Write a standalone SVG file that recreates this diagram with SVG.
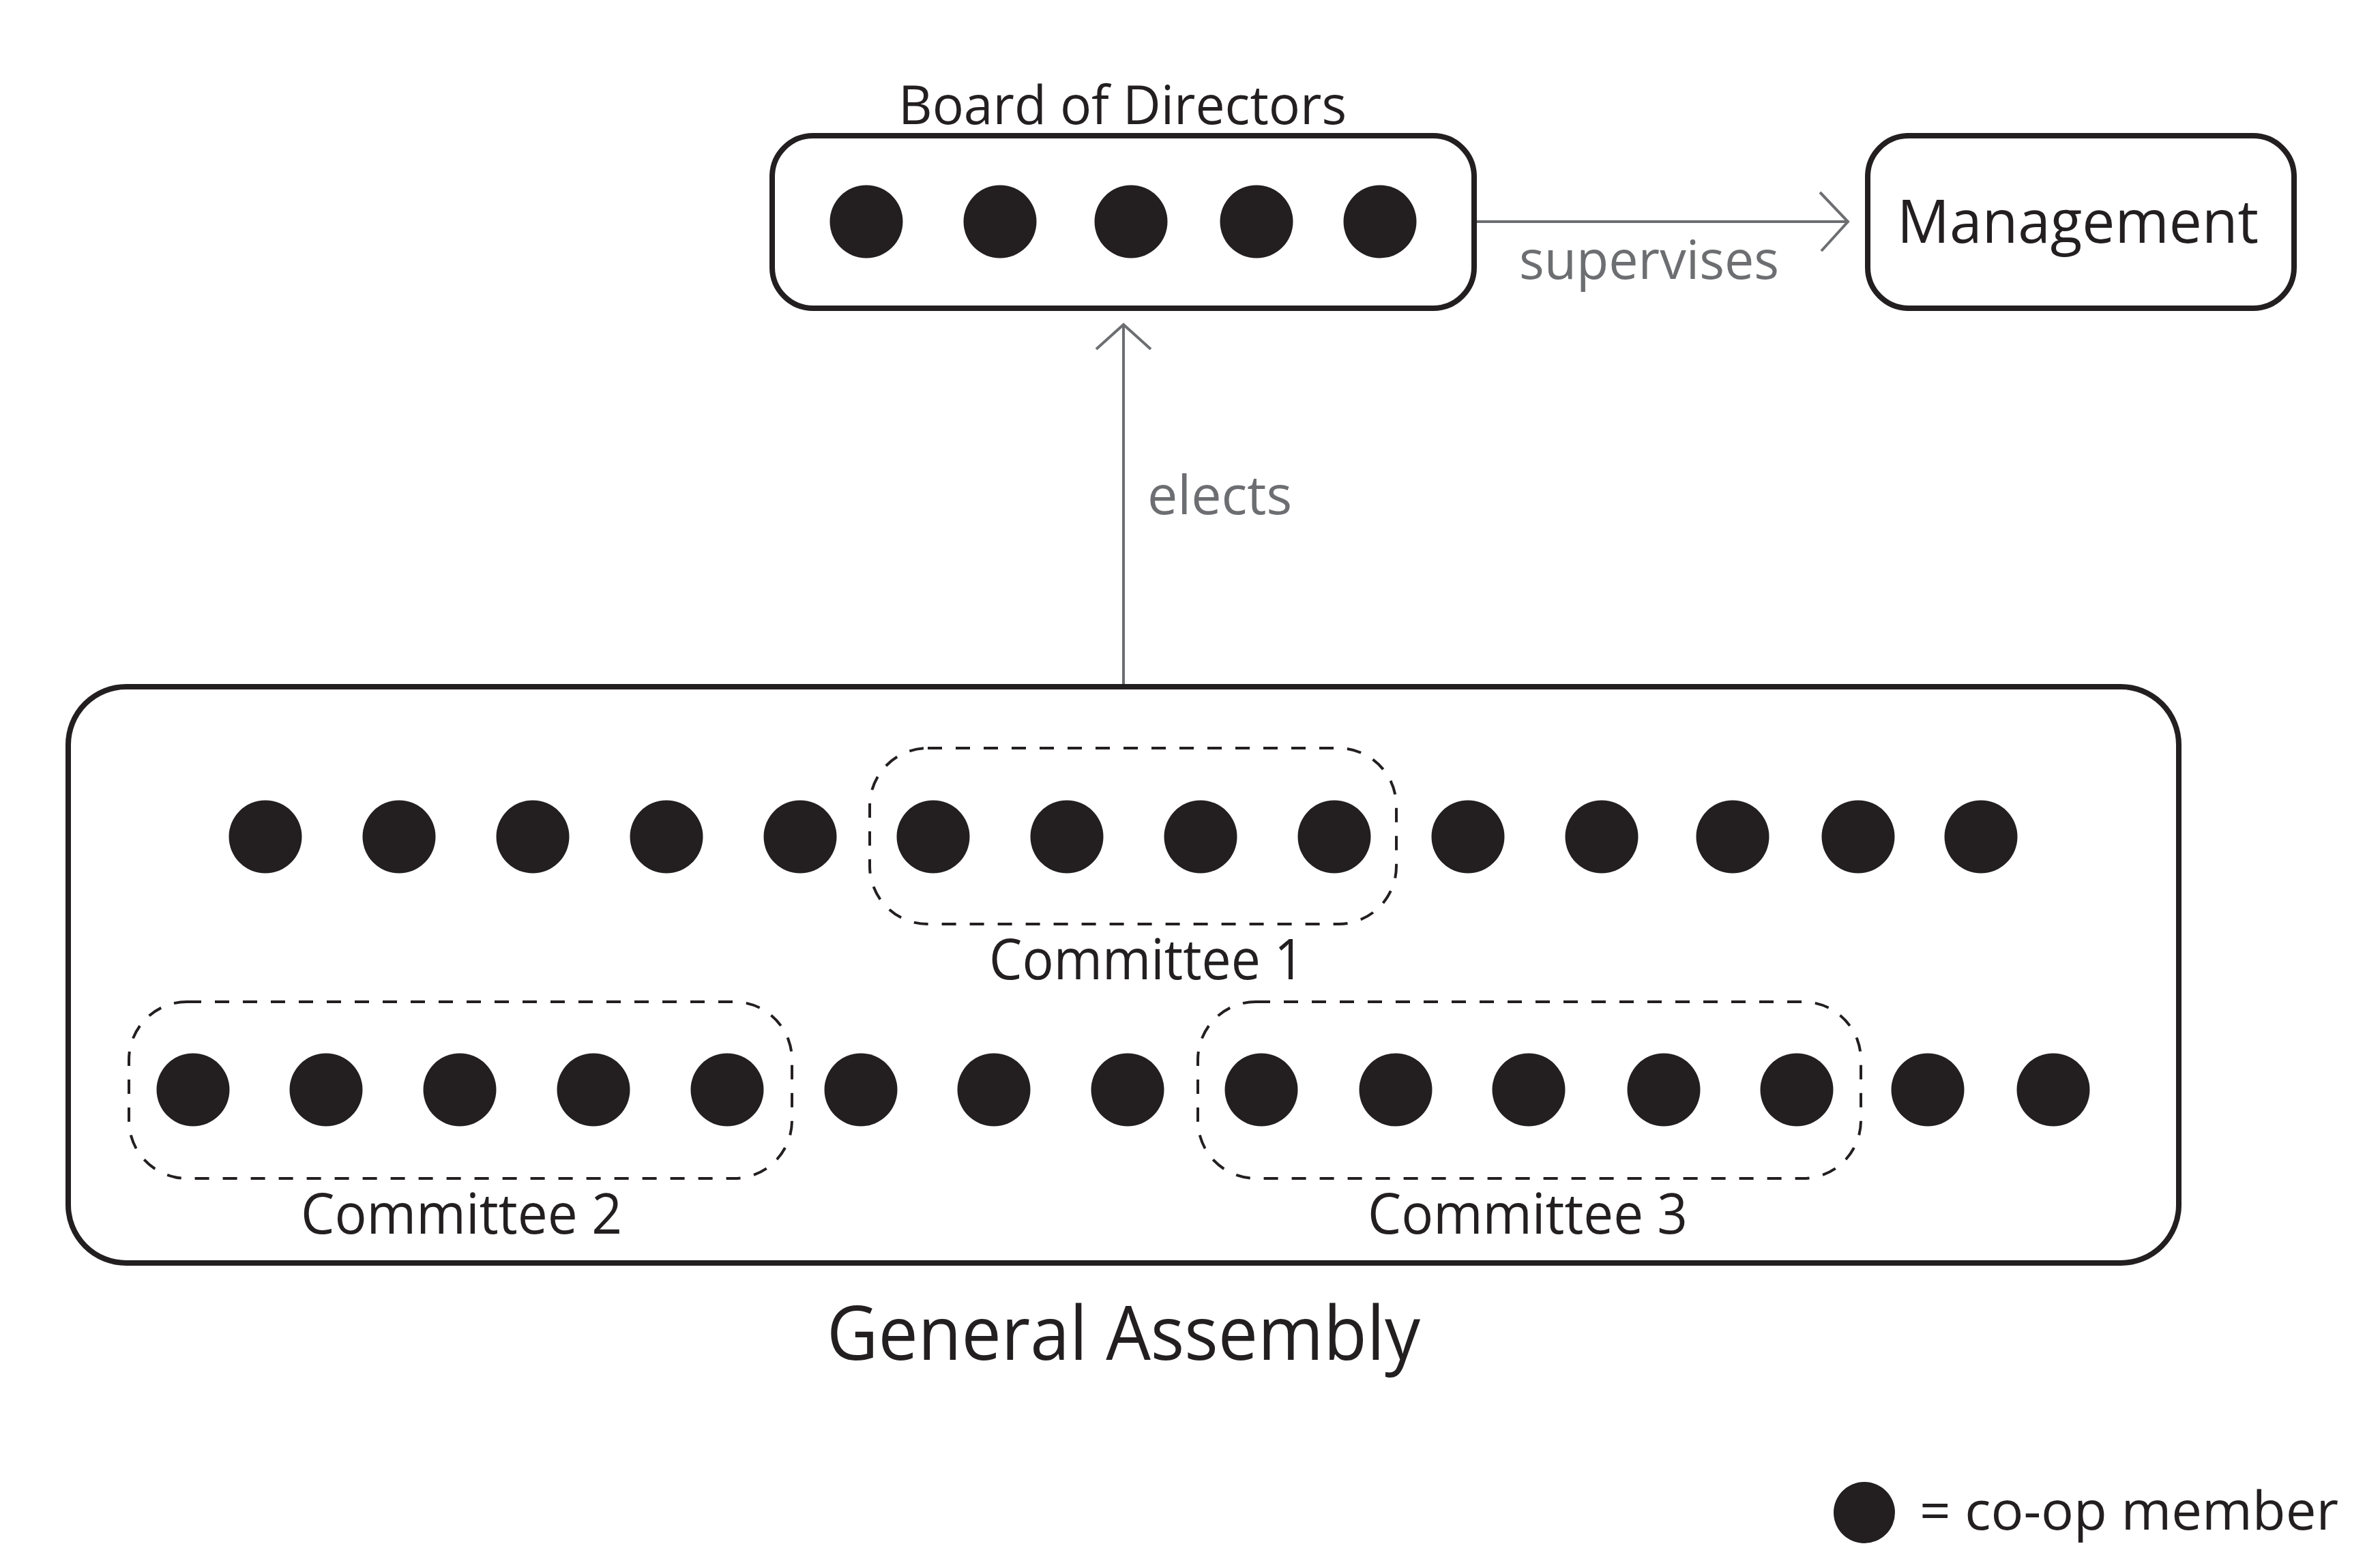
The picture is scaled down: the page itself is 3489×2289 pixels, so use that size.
<svg xmlns="http://www.w3.org/2000/svg" width="3489" height="2289" viewBox="0 0 3489 2289">
<style>
.box{fill:#fff;stroke:#231f20;stroke-width:8}
.dash{fill:none;stroke:#231f20;stroke-width:4;stroke-dasharray:21 20}
.dot{fill:#231f20}
.lbl{font-family:"Open Sans","Noto Sans",sans-serif;fill:#231f20}
.glbl{font-family:"Open Sans","Noto Sans",sans-serif;fill:#6d6e71}
.conn{fill:none;stroke:#6d6e71;stroke-width:4}
</style>
<defs>
<circle id="m" r="53.5" class="dot"/>
</defs>
<rect width="3489" height="2289" fill="#fff"/>
<g id="connectors">
<path class="conn" d="M2161 325H2708"/>
<path class="conn" d="M2668 282L2709 325L2670 368"/>
<path class="conn" d="M1647 1006V476"/>
<path class="conn" d="M1607 512L1647 476L1687 512"/>
<text class="glbl" x="2227" y="409" font-size="78" textLength="381" lengthAdjust="spacingAndGlyphs">supervises</text>
<text class="glbl" x="1682" y="754" font-size="78" textLength="212" lengthAdjust="spacingAndGlyphs">elects</text>
</g>
<g id="board">
<text class="lbl" x="1317" y="182" font-size="78" textLength="657" lengthAdjust="spacingAndGlyphs">Board of Directors</text>
<rect class="box" x="1132" y="199" width="1029" height="253" rx="60"/>
<use href="#m" x="1270" y="325"/>
<use href="#m" x="1466" y="325"/>
<use href="#m" x="1658" y="325"/>
<use href="#m" x="1842" y="325"/>
<use href="#m" x="2023" y="325"/>
</g>
<g id="management">
<rect class="box" x="2738" y="199" width="625" height="253" rx="60"/>
<text class="lbl" x="2781" y="356" font-size="87" textLength="530" lengthAdjust="spacingAndGlyphs">Management</text>
</g>
<g id="general-assembly">
<rect class="box" x="100" y="1007" width="3094" height="845" rx="85"/>
<use href="#m" x="389" y="1227"/>
<use href="#m" x="585" y="1227"/>
<use href="#m" x="781" y="1227"/>
<use href="#m" x="977" y="1227"/>
<use href="#m" x="1173" y="1227"/>
<use href="#m" x="1368" y="1227"/>
<use href="#m" x="1564" y="1227"/>
<use href="#m" x="1760" y="1227"/>
<use href="#m" x="1956" y="1227"/>
<use href="#m" x="2152" y="1227"/>
<use href="#m" x="2348" y="1227"/>
<use href="#m" x="2540" y="1227"/>
<use href="#m" x="2724" y="1227"/>
<use href="#m" x="2904" y="1227"/>
<use href="#m" x="283" y="1598"/>
<use href="#m" x="478" y="1598"/>
<use href="#m" x="674" y="1598"/>
<use href="#m" x="870" y="1598"/>
<use href="#m" x="1066" y="1598"/>
<use href="#m" x="1262" y="1598"/>
<use href="#m" x="1457" y="1598"/>
<use href="#m" x="1653" y="1598"/>
<use href="#m" x="1849" y="1598"/>
<use href="#m" x="2046" y="1598"/>
<use href="#m" x="2241" y="1598"/>
<use href="#m" x="2439" y="1598"/>
<use href="#m" x="2634" y="1598"/>
<use href="#m" x="2826" y="1598"/>
<use href="#m" x="3010" y="1598"/>
<text class="lbl" x="1212" y="1994" font-size="109" textLength="870" lengthAdjust="spacingAndGlyphs">General Assembly</text>
</g>
<g id="committee-1">
<rect class="dash" x="1275" y="1097" width="772" height="258" rx="85"/>
<text class="lbl" x="1450" y="1436" font-size="83" textLength="462" lengthAdjust="spacingAndGlyphs">Committee 1</text>
</g>
<g id="committee-2">
<rect class="dash" x="189" y="1469" width="972" height="259" rx="85"/>
<text class="lbl" x="441" y="1809" font-size="83" textLength="471" lengthAdjust="spacingAndGlyphs">Committee 2</text>
</g>
<g id="committee-3">
<rect class="dash" x="1756" y="1469" width="972" height="259" rx="85"/>
<text class="lbl" x="2005" y="1809" font-size="83" textLength="469" lengthAdjust="spacingAndGlyphs">Committee 3</text>
</g>
<g id="legend">
<circle class="dot" cx="2733" cy="2218" r="45"/>
<text class="lbl" x="2814" y="2243" font-size="78" textLength="614" lengthAdjust="spacingAndGlyphs">= co-op member</text>
</g>
</svg>
